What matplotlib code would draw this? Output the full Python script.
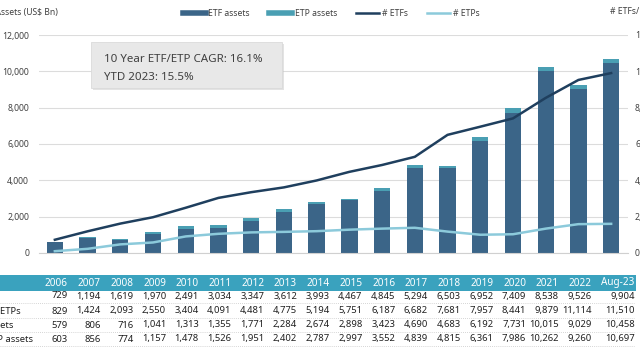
import matplotlib.pyplot as plt
from matplotlib.patches import Rectangle
import matplotlib.transforms as mtransforms
from matplotlib.lines import Line2D
import numpy as np

plt.rcParams['font.family'] = ['Noto Sans', 'DejaVu Sans']

years = ['2006', '2007', '2008', '2009', '2010', '2011', '2012', '2013', '2014',
         '2015', '2016', '2017', '2018', '2019', '2020', '2021', '2022', 'Aug-23']
n_etfs = [729, 1194, 1619, 1970, 2491, 3034, 3347, 3612, 3993,
          4467, 4845, 5294, 6503, 6952, 7409, 8538, 9526, 9904]
n_etfs_etps = [829, 1424, 2093, 2550, 3404, 4091, 4481, 4775, 5194,
               5751, 6187, 6682, 7681, 7957, 8441, 9879, 11114, 11510]
etf_assets = [579, 806, 716, 1041, 1313, 1355, 1771, 2284, 2674,
              2898, 3423, 4690, 4683, 6192, 7731, 10015, 9029, 10458]
total_assets = [603, 856, 774, 1157, 1478, 1526, 1951, 2402, 2787,
                2997, 3552, 4839, 4815, 6361, 7986, 10262, 9260, 10697]
row_labels = ['# ETFs', '# ETFs/ETPs', 'ETF assets', 'ETF/ETP assets']

n_etps = [a - b for a, b in zip(n_etfs_etps, n_etfs)]
etp_assets = [a - b for a, b in zip(total_assets, etf_assets)]

C_ETF = '#3b6588'
C_ETP = '#4a9fb3'
C_LINE1 = '#1f3f5e'
C_LINE2 = '#8ccadb'
C_TXT = '#404040'

W, H = 640, 360
fig = plt.figure(figsize=(6.4, 3.6), dpi=100)
ax = fig.add_axes([38.5 / W, 1 - 253 / H, 589 / W, 218 / H])
x = np.arange(len(years))

ax.bar(x, etf_assets, width=0.5, color=C_ETF, zorder=2, label='ETF assets')
ax.bar(x, etp_assets, width=0.5, bottom=etf_assets, color=C_ETP, zorder=2,
       label='ETP assets')
ax.set_xlim(-0.5, len(years) - 0.5)
ax.set_ylim(0, 12000)
ax.set_yticks(range(0, 12001, 2000))
ax.set_yticklabels([f'{v:,}' for v in range(0, 12001, 2000)])
ax.set_xticks([])
ax.grid(axis='y', color='#dcdcdc', lw=0.8, zorder=0)
for s in ['top', 'right', 'left']:
    ax.spines[s].set_visible(False)
ax.spines['bottom'].set_color('#d0d0d0')
ax.tick_params(axis='y', length=0, pad=6.8, labelsize=6.2, colors=C_TXT)

ax2 = ax.twinx()
ax2.set_ylim(0, 12000)
ax2.set_yticks(range(0, 12001, 2000))
ax2.set_yticklabels([f'{v:,}' for v in range(0, 12001, 2000)])
ax2.tick_params(axis='y', length=0, pad=5.4, labelsize=6.2, colors=C_TXT)
for s in ax2.spines.values():
    s.set_visible(False)
ax2.plot(x, n_etfs, color=C_LINE1, lw=1.8, zorder=3, label='# ETFs')
ax2.plot(x, n_etps, color=C_LINE2, lw=1.8, zorder=3, label='# ETPs')

# axis titles (cropped at the figure edges, as in the source image)
fig.text(-27 / W, 1 - 12 / H, 'Total Assets (US$ Bn)', fontsize=6.2,
         color=C_TXT, va='center', ha='left')
fig.text(610 / W, 1 - 12 / H, '# ETFs/ETPs', fontsize=6.2,
         color=C_TXT, va='center', ha='left')

# legend
handles = [Line2D([], [], color=C_ETF, lw=4), Line2D([], [], color=C_ETP, lw=4),
           Line2D([], [], color=C_LINE1, lw=1.8), Line2D([], [], color=C_LINE2, lw=1.8)]
fig.legend(handles, ['ETF assets', 'ETP assets', '# ETFs', '# ETPs'],
           loc='center', bbox_to_anchor=(331 / W, 1 - 14 / H), ncol=4,
           frameon=False, fontsize=6.2, handlelength=2.7, handletextpad=0.3,
           columnspacing=2.2, labelcolor=C_TXT)

# CAGR box
fig.patches.append(Rectangle((93 / W, 1 - 90 / H), 191 / W, 46 / H,
                             transform=fig.transFigure, facecolor='#c8c8c8',
                             edgecolor='none', alpha=0.5, zorder=4))
fig.patches.append(Rectangle((91 / W, 1 - 88 / H), 191 / W, 46 / H,
                             transform=fig.transFigure, facecolor='#e8e8e8',
                             edgecolor='#dadada', lw=0.6, zorder=5))
fig.text(104 / W, 1 - 60 / H, '10 Year ETF/ETP CAGR: 16.1%', fontsize=8.3,
         color=C_TXT, va='center', zorder=6)
fig.text(104 / W, 1 - 77 / H, 'YTD 2023: 15.5%', fontsize=8.3,
         color=C_TXT, va='center', zorder=6)

# data table
fig.patches.append(Rectangle((0, 1 - 291 / H), 636 / W, 16 / H,
                             transform=fig.transFigure, facecolor='#3aa2be',
                             edgecolor='none'))
tr = mtransforms.blended_transform_factory(ax.transData, fig.transFigure)
col_x = [i + 0.4 for i in range(len(years) - 1)] + [len(years) - 1 + 0.72]
for cx, yr in zip(col_x, years):
    fig.text(cx, 1 - 283 / H, yr, transform=tr, ha='right', va='center',
             fontsize=7.2, fontweight='bold', color='white')
rows = [n_etfs, n_etfs_etps, etf_assets, total_assets]
row_y = [296, 311, 325, 339]
for r, (vals, yy) in enumerate(zip(rows, row_y)):
    fig.text(-32 / W, 1 - yy / H, row_labels[r], ha='left', va='center',
             fontsize=6.8, color='#202020')
    for cx, v in zip(col_x, vals):
        fig.text(cx, 1 - yy / H, f'{v:,}', transform=tr, ha='right',
                 va='center', fontsize=6.8, color='#202020')
    fig.add_artist(Line2D([0, 634 / W], [1 - (yy + 7) / H] * 2,
                          transform=fig.transFigure, color='#c8c8c8', lw=0.6,
                          ls=(0, (1, 1.5))))

fig.savefig('out.png', dpi=100)
